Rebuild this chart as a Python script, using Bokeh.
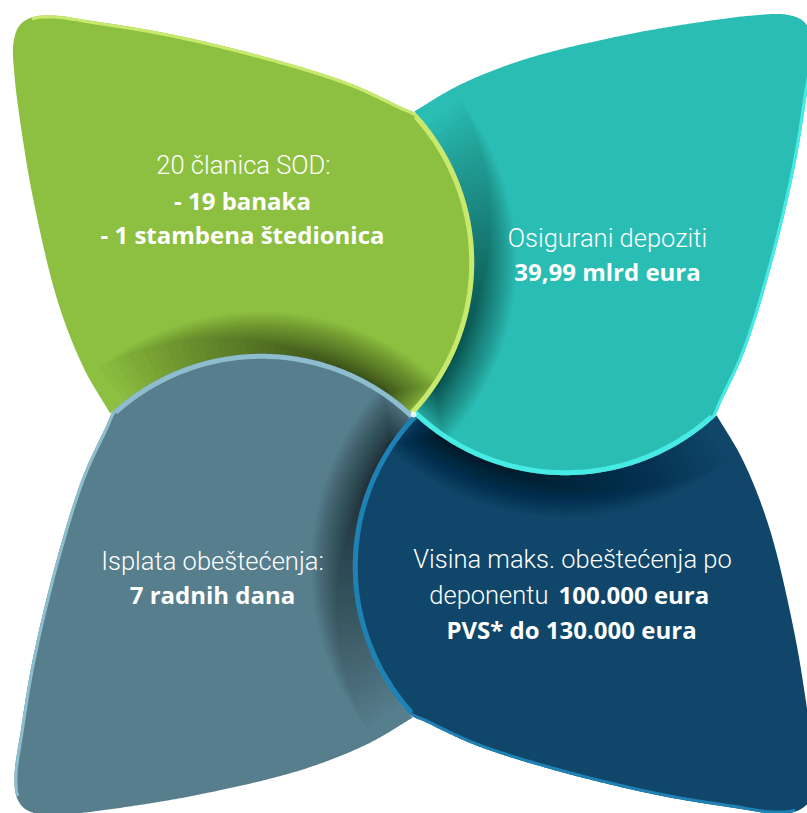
import numpy as np
from bokeh.plotting import figure
from bokeh.models import Range1d, ColumnDataSource
from bokeh.core.properties import value
from bokeh.embed import file_html
from bokeh.resources import INLINE

# ---------------- content ----------------
petal_names = ["clanice", "isplata", "obestecenje", "depoziti"]   # green, slate, navy, teal
light_text = ["20 članica SOD:", "Osigurani depoziti", "Isplata obeštećenja:",
              "Visina maks. obeštećenja po", "deponentu"]
bold_text = ["- 19 banaka", "- 1 stambena štedionica", "39,99 mlrd eura",
             "7 radnih dana", "100.000 eura", "PVS* do 130.000 eura"]

# ---------------- styles / layout ----------------
petal_fill = ["#8dbf41", "#567e8c", "#0f4669", "#29bdb4"]
petal_rim = ["#c8ea6c", "#8ebdce", "#1f82b4", "#47ebe5"]
light_x = [243, 607, 212, 572, 548]
light_y = [164, 237, 560, 558, 594]
light_align = ["center", "center", "center", "center", "right"]
bold_x = [242, 242, 607, 212, 558, 571]
bold_y = [200, 234, 271, 594, 594, 629]
bold_align = ["center", "center", "center", "center", "left", "center"]

# base petal geometry (top-left petal); others are 90-degree rotations
HUB = np.array([413.0, 414.0])
ARC_C = np.array([-160.0, -152.0])
ARC_R = float(np.hypot(*ARC_C))
ARC_END_DEG = -42.0
OUTER_ABS = [(400, 106), (350, 83), (267, 57), (167, 33), (95, 21), (52, 15),
             (31, 17), (19, 25), (13, 42), (14, 75), (21, 130), (33, 200),
             (57, 300), (83, 367), (108, 410), (130, 445)]
RIM_END = 6
SH_W, SH_K, SH_A = 42.0, 36, 0.5


def catmull(pts, n=30, alpha=0.5):
    pts = np.asarray(pts, float)
    p = np.vstack([2 * pts[0] - pts[1], pts, 2 * pts[-1] - pts[-2]])
    out = []
    for i in range(1, len(p) - 2):
        P0, P1, P2, P3 = p[i - 1], p[i], p[i + 1], p[i + 2]
        t0 = 0.0
        t1 = t0 + np.linalg.norm(P1 - P0) ** alpha
        t2 = t1 + np.linalg.norm(P2 - P1) ** alpha
        t3 = t2 + np.linalg.norm(P3 - P2) ** alpha
        t = np.linspace(t1, t2, n, endpoint=False)[:, None]
        A1 = (t1 - t) / (t1 - t0) * P0 + (t - t0) / (t1 - t0) * P1
        A2 = (t2 - t) / (t2 - t1) * P1 + (t - t1) / (t2 - t1) * P2
        A3 = (t3 - t) / (t3 - t2) * P2 + (t - t2) / (t3 - t2) * P3
        B1 = (t2 - t) / (t2 - t0) * A1 + (t - t0) / (t2 - t0) * A2
        B2 = (t3 - t) / (t3 - t1) * A2 + (t - t1) / (t3 - t1) * A3
        out.append((t2 - t) / (t2 - t1) * B1 + (t - t1) / (t2 - t1) * B2)
    out.append(pts[-1][None])
    return np.vstack(out)


def arc(c, r, a0, a1, n=120):
    t = np.radians(np.linspace(a0, a1, n))
    return np.column_stack([c[0] + r * np.cos(t), c[1] + r * np.sin(t)])


def rot(pts, k):
    pts = np.asarray(pts, float)
    for _ in range(k % 4):
        pts = np.column_stack([pts[:, 1], -pts[:, 0]])
    return pts


def inset(path, d):
    tg = np.gradient(path, axis=0)
    tg /= np.linalg.norm(tg, axis=1)[:, None] + 1e-9
    nrm = np.column_stack([tg[:, 1], -tg[:, 0]])
    return path + d * nrm


NSEG = 30
T0 = np.degrees(np.arctan2(-ARC_C[1], -ARC_C[0]))
own_arc = arc(ARC_C, ARC_R, T0, ARC_END_DEG)
outer_rel = np.asarray(OUTER_ABS, float) - HUB
ghost = arc(ARC_C, ARC_R, ARC_END_DEG + 8, ARC_END_DEG + 8, 1)
spl = catmull(np.vstack([ghost, own_arc[-1:], outer_rel]), NSEG)[NSEG:]
rim_edge = spl[: (RIM_END + 1) * NSEG + 1]

CS = rot(ARC_C[None], 1)[0]
dist = np.hypot(spl[:, 0] - CS[0], spl[:, 1] - CS[1])
start = (RIM_END + 2) * NSEG
cut = start + int(np.argmax(dist[start:] < ARC_R))
pc = spl[cut]
TA = np.degrees(np.arctan2(pc[1] - CS[1], pc[0] - CS[0]))
TB = np.degrees(np.arctan2(-CS[1], -CS[0]))
closing = arc(CS, ARC_R, TA, TB, 80)
base_poly = np.vstack([own_arc, spl[1:cut], closing])

# shadow layers cast by the arc onto the neighbouring petal
T_END = TA + 90.0
shadow_layers = []
for k in range(SH_K):
    f = k / SH_K
    a0 = T0 - f * 10.0
    a1 = T_END + 5 + f * 62.0
    ro = ARC_R + SH_W * (1 - f) ** 1.3
    shadow_layers.append(np.vstack([arc(ARC_C, ARC_R - 0.5, a0, a1, 80),
                                    arc(ARC_C, ro, a1, a0, 80)]))
layer_alpha = 1 - (1 - SH_A) ** (1.0 / SH_K)

rim_arc = arc(ARC_C, ARC_R - 2.5, T0, ARC_END_DEG)
rim_line = inset(rim_edge, 1.5)

# ---------------- figure ----------------
W, H = 807, 813
p = figure(width=W, height=H, x_range=Range1d(0, W), y_range=Range1d(H, 0),
           output_backend="svg", toolbar_location=None, min_border=0,
           x_axis_location=None, y_axis_location=None)
p.grid.visible = False
p.outline_line_color = None
p.background_fill_color = "white"
p.border_fill_color = "white"

for k in range(4):
    poly = rot(base_poly, k) + HUB
    p.patch(poly[:, 0], poly[:, 1], fill_color=petal_fill[k], line_color=None)

xs, ys = [], []
for k in range(4):
    for lay in shadow_layers:
        q = rot(lay, k) + HUB
        xs.append(q[:, 0])
        ys.append(q[:, 1])
p.patches(xs, ys, fill_color="#000000", fill_alpha=layer_alpha, line_color=None)

for k in range(4):
    a = rot(rim_arc, k) + HUB
    e = rot(rim_line, k) + HUB
    p.line(a[:, 0], a[:, 1], line_color=petal_rim[k], line_width=5)
    p.line(e[:, 0], e[:, 1], line_color=petal_rim[k], line_width=3)

p.scatter([HUB[0]], [HUB[1]], size=5, color="white", alpha=0.85)

light_src = ColumnDataSource(dict(x=light_x, y=light_y, text=light_text, align=light_align))
bold_src = ColumnDataSource(dict(x=bold_x, y=bold_y, text=bold_text, align=bold_align))
p.text(x="x", y="y", text="text", source=light_src, text_align="align",
       text_baseline="middle", text_color="white", text_font=value("Roboto Light"),
       text_font_size="25.5px")
p.text(x="x", y="y", text="text", source=bold_src, text_align="align",
       text_baseline="middle", text_color="white", text_font=value("Open Sans"),
       text_font_style="bold", text_font_size="24px")

open("out.html", "w").write(file_html(p, INLINE))
